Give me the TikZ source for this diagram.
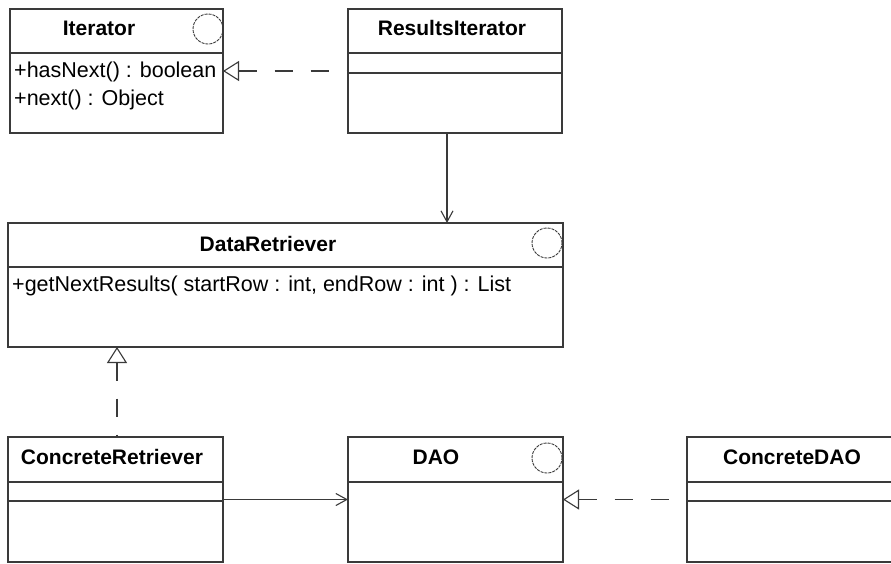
\documentclass[tikz,border=0pt]{standalone}
\usepackage{fontspec}
\setmainfont{Liberation Sans}
\usetikzlibrary{arrows.meta}
\definecolor{umlline}{HTML}{3A3A3A}
\definecolor{umlicon}{HTML}{3A3A3A}

\tikzset{
  umlbox/.style={draw=umlline, line width=1.1pt, anchor=north west,
    inner sep=0pt, outer sep=0pt},
  umlrule/.style={draw=umlline, line width=1.1pt},
  cname/.style={anchor=base, inner sep=0pt, font=\fontsize{21}{25}\selectfont\bfseries},
  member/.style={anchor=base west, inner sep=0pt, font=\fontsize{21.5}{25}\selectfont},
  iface/.style={circle, draw=umlicon, line width=0.9pt, dash pattern=on 3pt off 1pt,
    minimum size=30pt, inner sep=0pt},
  realize/.style={draw=umlline, line width=1.1pt, dash pattern=on 18pt off 18pt,
    {Triangle[open, length=16pt, width=20pt, fill=white]}-},
  assoc/.style={draw=umlline, line width=1.1pt,
    -{Straight Barb[length=11pt, width=12pt]}},
}

\begin{document}
\begin{tikzpicture}[x=1pt, y=-1pt]
  \useasboundingbox (0,0) rectangle (891,563);
  \fill[white] (0,0) rectangle (891,563);
  \clip (0,0) rectangle (891,563);

  % class and interface boxes
  \node[umlbox, minimum width=213pt, minimum height=124pt] (iter) at (10,9) {};
  \node[umlbox, minimum width=214pt, minimum height=124pt] (resit) at (348,9) {};
  \node[umlbox, minimum width=555pt, minimum height=124pt] (dret) at (8,223) {};
  \node[umlbox, minimum width=215pt, minimum height=125pt] (cret) at (8,437) {};
  \node[umlbox, minimum width=215pt, minimum height=125pt] (dao) at (348,437) {};
  \node[umlbox, minimum width=210pt, minimum height=125pt] (cdao) at (687,437) {};

  % compartment rules
  \draw[umlrule] ([yshift=-44pt]iter.north west) -- ([yshift=-44pt]iter.north east);
  \draw[umlrule] ([yshift=-44pt]resit.north west) -- ([yshift=-44pt]resit.north east);
  \draw[umlrule] ([yshift=-64pt]resit.north west) -- ([yshift=-64pt]resit.north east);
  \draw[umlrule] ([yshift=-44pt]dret.north west) -- ([yshift=-44pt]dret.north east);
  \draw[umlrule] ([yshift=-45pt]cret.north west) -- ([yshift=-45pt]cret.north east);
  \draw[umlrule] ([yshift=-64pt]cret.north west) -- ([yshift=-64pt]cret.north east);
  \draw[umlrule] ([yshift=-45pt]dao.north west) -- ([yshift=-45pt]dao.north east);
  \draw[umlrule] ([yshift=-45pt]cdao.north west) -- ([yshift=-45pt]cdao.north east);
  \draw[umlrule] ([yshift=-64pt]cdao.north west) -- ([yshift=-64pt]cdao.north east);

  % interface markers
  \node[iface] (iter-icon) at (208,29) {};
  \node[iface] (dret-icon) at (547,243) {};
  \node[iface] (dao-icon) at (547,458) {};

  % names
  \node[cname] (iter-name) at (99,35) {Iterator};
  \node[cname] (resit-name) at (452,35) {ResultsIterator};
  \node[cname] (dret-name) at (268,251) {DataRetriever};
  \node[cname] (cret-name) at (112,464) {ConcreteRetriever};
  \node[cname] (dao-name) at (436,464) {DAO};
  \node[cname] (cdao-name) at (792,464) {ConcreteDAO};

  % operations
  \node[member] (op-hasnext) at (14,77) {+hasNext() : boolean};
  \node[member] (op-next) at (14,105) {+next() : Object};
  \node[member] (op-getnext) at (12,291) {+getNextResults( startRow : int, endRow : int ) : List};

  % relationships
  \draw[realize] (iter.east) -- (resit.west);
  \draw[assoc] ([xshift=-8pt]resit.south) -- ([xshift=-8pt]resit.south |- dret.north);
  \draw[realize] ([xshift=1.5pt]cret.north |- dret.south) -- ([xshift=1.5pt]cret.north);
  \draw[assoc] (cret.east) -- (dao.west);
  \draw[realize] (dao.east) -- (cdao.west);
\end{tikzpicture}
\end{document}
